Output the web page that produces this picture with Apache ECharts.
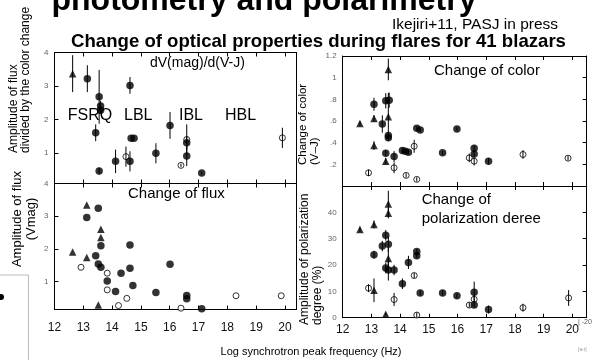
<!DOCTYPE html>
<html>
<head>
<meta charset="utf-8">
<script src="https://cdn.jsdelivr.net/npm/echarts@6/dist/echarts.min.js"></script>
<style>
    html, body { margin: 0; padding: 0; background: #fff; }
    #chart { width: 592px; height: 360px; }
</style>
</head>
<body>
<div id="chart"></div>
<script>
    // [log nu_peak, value, error half-length]
    // panel 1: dV(mag)/d(V-J)
    let ratioTri = [[12.63, 3.37, 0.55]];
    let ratioDot = [
        [13.14, 3.22, 0.4], [13.55, 2.68, 0.8], [13.6, 2.41, 0.15], [13.6, 2.28, 0.1],
        [13.43, 1.61, 0.25], [13.55, 0.47, 0.1], [14.62, 3.02, 0.25], [14.66, 1.45, 0],
        [14.76, 1.45, 0], [14.62, 0.76, 0.3], [14.12, 0.76, 0.35], [15.52, 1.0, 0.3],
        [16.01, 1.83, 0.4], [16.59, 1.31, 0.2], [16.59, 0.92, 0.3], [17.11, 0.41, 0.05]
    ];
    let ratioOpen = [[14.48, 0.9, 0.3], [16.59, 1.41, 0.45], [16.39, 0.64, 0.05], [19.91, 1.46, 0.3]];

    // panel 2: amplitude of flux (V mag)
    let fluxTri = [[13.12, 3.34, 0], [13.61, 2.6, 0], [13.61, 2.35, 0], [12.63, 1.91, 0], [13.12, 1.74, 0], [13.52, 0.29, 0]];
    let fluxDot = [
        [13.52, 3.24, 0], [13.12, 2.96, 0], [13.61, 2.1, 0], [14.62, 2.12, 0], [13.43, 1.79, 0],
        [13.52, 1.54, 0], [13.61, 1.44, 0], [14.31, 1.26, 0], [14.62, 1.41, 0], [16.01, 1.53, 0],
        [13.83, 1.02, 0], [14.12, 0.7, 0], [14.72, 0.88, 0], [15.52, 0.67, 0], [16.59, 0.48, 0],
        [16.59, 0.58, 0], [17.11, 0.17, 0]
    ];
    let fluxOpen = [[12.92, 1.44, 0], [13.83, 1.26, 0], [13.83, 0.75, 0], [14.51, 0.49, 0], [18.3, 0.57, 0], [19.87, 0.57, 0], [14.22, 0.27, 0], [16.39, 0.19, 0]];

    // panel 3: change of color (V-J)
    let colorTri = [[12.6, 0.578, 0.02], [13.09, 0.624, 0.03], [13.09, 0.373, 0.04], [13.59, 1.076, 0.1], [13.59, 0.64, 0.22], [13.5, 0.229, 0.03]];
    let colorDot = [
        [13.09, 0.755, 0.06], [13.38, 0.572, 0.08], [13.5, 0.786, 0.07], [13.62, 0.792, 0.07],
        [13.59, 0.466, 0.03], [13.59, 0.446, 0.03], [13.5, 0.303, 0.03], [13.79, 0.272, 0.05],
        [14.08, 0.327, 0.02], [14.29, 0.312, 0.02], [14.18, 0.32, 0.02], [14.58, 0.532, 0.02],
        [14.7, 0.517, 0.02], [15.48, 0.306, 0.02], [15.98, 0.526, 0.02], [16.58, 0.349, 0.03],
        [16.58, 0.296, 0.03], [17.08, 0.229, 0.03]
    ];
    let colorOpen = [[12.9, 0.122, 0.03], [13.79, 0.168, 0.05], [14.21, 0.098, 0.02], [14.49, 0.367, 0.06], [14.58, 0.061, 0.02], [16.41, 0.26, 0.04], [16.58, 0.229, 0.04], [18.28, 0.291, 0.04], [19.85, 0.257, 0.02]];

    // panel 4: amplitude of polarization degree (%)
    let polTri = [[12.6, 33.5, 1], [13.09, 35.4, 1.5], [13.09, 10.4, 4.5], [13.59, 43.2, 5], [13.59, 39.7, 2], [13.59, 22.5, 4], [13.5, 1.3, 0.5]];
    let polDot = [
        [13.09, 23.9, 1.5], [13.38, 27.2, 2], [13.5, 31.3, 2], [13.59, 27.9, 3], [13.5, 18.9, 2],
        [13.59, 18.1, 4], [13.79, 18.1, 2], [14.08, 12.9, 2], [14.29, 21.0, 2.5], [14.58, 25.1, 1],
        [14.58, 23.5, 1], [14.7, 9.4, 1], [15.48, 9.4, 1], [15.98, 8.3, 1], [16.58, 9.7, 4],
        [16.58, 4.8, 1], [17.08, 3.1, 1.5]
    ];
    let polOpen = [[12.9, 11.2, 1.5], [13.79, 6.9, 2.5], [14.49, 16.0, 1], [14.58, 1.0, 1], [16.41, 4.8, 1], [16.58, 7.0, 1.5], [18.28, 3.8, 1.5], [19.87, 7.5, 3]];

    let classLabels = ['FSRQ', 'LBL', 'IBL', 'HBL'];

    let FONT = "'Liberation Sans', Arial, sans-serif";
    let chart = echarts.init(document.getElementById('chart'));

    // one grid per panel: 0 top-left, 1 bottom-left, 2 top-right, 3 bottom-right
    let grids = [
        {left: 54.5, top: 52.5, width: 242, height: 131},
        {left: 54.5, top: 183.5, width: 242, height: 126},
        {left: 342.7, top: 56, width: 244, height: 130},
        {left: 342.7, top: 186, width: 244, height: 131.7}
    ];
    let xMax = [20.4, 20.4, 20.5, 20.5];
    let xLabelShow = [false, true, false, true];
    let xLabelMargin = [8, 12, 8, 6];

    let xAxes = [], yAxes = [];
    grids.forEach(function (g, i) {
        // bottom axis (the one the data use) and a mirrored top one
        ['bottom', 'top'].forEach(function (pos) {
            xAxes.push({
                type: 'value', gridIndex: i, position: pos, min: 12, max: xMax[i], interval: 1,
                axisLine: {show: true, onZero: false, lineStyle: {color: '#000', width: 1}},
                axisTick: {show: true, inside: true, length: 4, lineStyle: {color: '#000'}},
                axisLabel: {show: pos === 'bottom' && xLabelShow[i], margin: xLabelMargin[i], fontSize: 12,
                    color: '#111', fontFamily: FONT, showMaxLabel: false},
                splitLine: {show: false}
            });
        });
    });

    let yCfg = [
        {min: 0.1, max: 4, splitNumber: 4, fmt: function (v) { return Number.isInteger(v) ? v : ''; }},
        {min: 0.15, max: 4, splitNumber: 4, fmt: function (v) { return Number.isInteger(v) && v > 0 ? v : ''; }},
        {min: 0, max: 1.2, interval: 0.2, fmt: function (v) {
            if (v === 0) return '';
            if (v === 1) return '1';
            return String(v).replace(/^0/, '');
        }},
        {min: 0, max: 50, interval: 10, fmt: function (v) { return v === 50 ? '' : v; }}
    ];
    grids.forEach(function (g, i) {
        let c = yCfg[i];
        ['left', 'right'].forEach(function (pos) {
            let ax = {
                type: 'value', gridIndex: i, position: pos, min: c.min, max: c.max,
                axisLine: {show: true, lineStyle: {color: '#000', width: 1}},
                axisTick: {show: pos === 'left' ? i < 2 : i >= 2, inside: true, length: 4, lineStyle: {color: '#000'}},
                axisLabel: {show: pos === 'left', formatter: c.fmt, fontSize: 8, color: '#666', margin: 6, fontFamily: FONT},
                splitLine: {show: false}
            };
            if (c.interval) ax.interval = c.interval; else ax.splitNumber = c.splitNumber;
            yAxes.push(ax);
        });
    });

    function dots(data, gi, kind) {
        let open = kind === 'open';
        return {
            type: 'scatter', xAxisIndex: gi * 2, yAxisIndex: gi * 2, data: data,
            symbol: kind === 'tri' ? 'triangle' : 'circle',
            symbolSize: open ? 6 : 7.5,
            z: open ? 2 : 4,
            itemStyle: open ? {color: '#fff', borderColor: '#000', borderWidth: 1} : {color: '#000'},
            silent: true
        };
    }

    function errorBars(data, gi) {
        return {
            type: 'custom', xAxisIndex: gi * 2, yAxisIndex: gi * 2, z: 3, silent: true,
            data: data.filter(function (d) { return d[2] > 0; }),
            encode: {x: 0, y: 1},
            renderItem: function (params, api) {
                let x = api.value(0), y = api.value(1), e = api.value(2);
                let lo = api.coord([x, y - e]), hi = api.coord([x, y + e]);
                return {type: 'line', shape: {x1: lo[0], y1: lo[1], x2: hi[0], y2: hi[1]},
                    style: {stroke: '#000', lineWidth: 1}};
            }
        };
    }

    let panels = [
        [ratioTri, ratioDot, ratioOpen],
        [fluxTri, fluxDot, fluxOpen],
        [colorTri, colorDot, colorOpen],
        [polTri, polDot, polOpen]
    ];
    let series = [];
    panels.forEach(function (p, gi) {
        series.push(dots(p[0], gi, 'tri'));
        series.push(dots(p[1], gi, 'dot'));
        series.push(dots(p[2], gi, 'open'));
        series.push(errorBars(p[0].concat(p[1], p[2]), gi));
    });

    function txt(x, y, text, size, extra) {
        let st = {text: text, fontSize: size, fontFamily: FONT, fill: '#000', align: 'left', verticalAlign: 'middle'};
        let el = {type: 'text', x: x, y: y, z: 100, style: st, silent: true};
        if (extra) {
            Object.keys(extra).forEach(function (k) {
                if (k === 'rotation') el.rotation = extra[k]; else st[k] = extra[k];
            });
        }
        return el;
    }

    let classX = [67.7, 124, 179, 225];
    let graphics = [
        txt(264, 1, 'photometry and polarimetry', 32, {fontWeight: 'bold', align: 'center'}),
        txt(392, 25, 'Ikejiri+11, PASJ in press', 15.5),
        txt(318.5, 41.5, 'Change of optical properties during flares for 41 blazars', 18.6, {fontWeight: 'bold', align: 'center'}),
        txt(150, 63, 'dV(mag)/d(V-J)', 14),
        txt(128, 193.5, 'Change of flux', 15),
        txt(434, 71, 'Change of color', 15),
        txt(421.7, 209, 'Change of\npolarization deree', 15, {lineHeight: 19}),
        txt(311, 352, 'Log synchrotron peak frequency (Hz)', 11, {align: 'center'}),
        // y titles
        txt(20, 153, 'Amplitude of flux\ndivided by the color change', 12, {rotation: Math.PI / 2, lineHeight: 12}),
        txt(24, 219, 'Amplitude of flux\n(Vmag)', 13, {rotation: Math.PI / 2, align: 'center', lineHeight: 14}),
        txt(309, 165, 'Change of color\n(V\u2013J)', 11.5, {rotation: Math.PI / 2, lineHeight: 12}),
        txt(311, 325, 'Amplitude of polarization\ndegree (%)', 12, {rotation: Math.PI / 2, lineHeight: 13}),
        // leftovers of the slide
        txt(578, 322, '| -20', 7, {fill: '#555'}),
        txt(578, 350, '[a-t]', 5, {fill: '#999'}),
        {type: 'polyline', shape: {points: [[0, 275], [28.5, 275], [28.5, 360]]}, style: {stroke: '#bbb', fill: null, lineWidth: 1}, silent: true},
        {type: 'circle', shape: {cx: 1, cy: 297, r: 3}, style: {fill: '#000'}, silent: true}
    ];
    classLabels.forEach(function (s, i) {
        graphics.push(txt(classX[i], 116, s, 16));
    });

    chart.setOption({
        animation: false,
        backgroundColor: '#fff',
        grid: grids,
        xAxis: xAxes,
        yAxis: yAxes,
        series: series,
        graphic: graphics
    });
</script>
</body>
</html>
